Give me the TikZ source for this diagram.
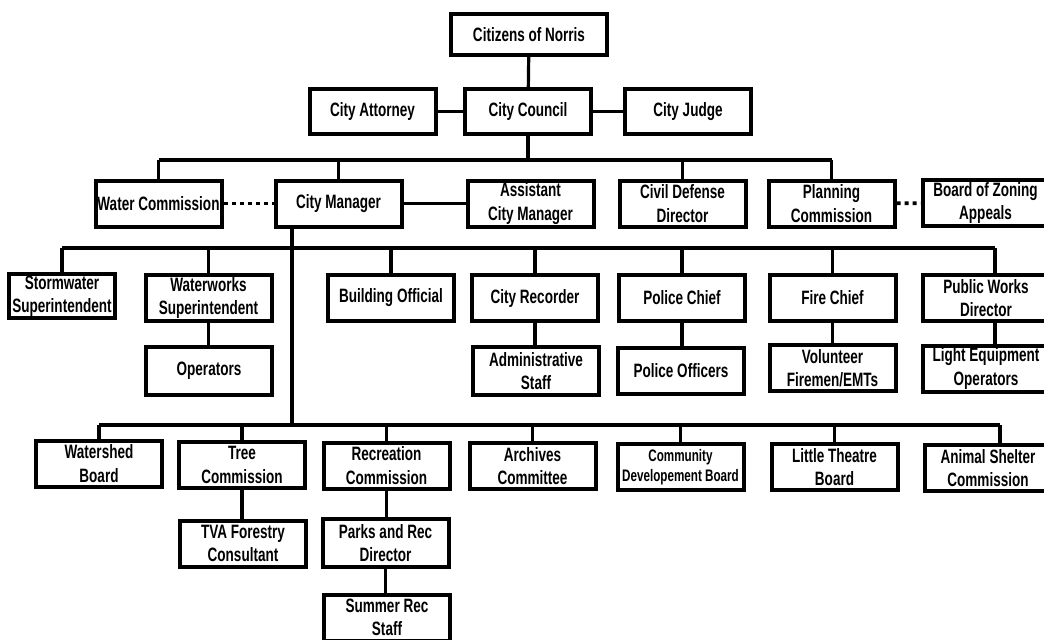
\documentclass[tikz,border=0pt]{standalone}
\usepackage{fontspec}
\newfontfamily\orgfont{Liberation Sans}[FakeStretch=0.70]
\usetikzlibrary{positioning}

\tikzset{
  box/.style={draw, line width=3pt, align=center, inner sep=0pt,
    minimum width=94.5pt, minimum height=34.5pt,
    font=\orgfont\bfseries\fontsize{14.5pt}{17.4pt}\selectfont},
  link/.style={line width=2.4pt},
  dotline/.style={line width=2.8pt, dash pattern=on 3pt off 3pt}
}

\begin{document}
\begin{tikzpicture}[x=0.75pt,y=-0.75pt]
\useasboundingbox (0,0) rectangle (1044,639);
\fill[white] (0,0) rectangle (1044,639);

% council level
\node[box, minimum width=117pt, minimum height=30.75pt] (cn) at (529,34.5) {Citizens of Norris};
\node[box, minimum height=33.75pt] (ca) at (372.5,111.5) {City Attorney};
\node[box, minimum height=33.75pt] (cc) at (528,111.5) {City Council};
\node[box, minimum height=33.75pt] (cj) at (688,111.5) {City Judge};

% second row
\node[box] (wc) at (158.5,203.5) {Water Commission};
\node[box] (cm) at (338.5,203.5) {City Manager};
\node[box] (acm) at (530.5,203.5) {Assistant\\City Manager};
\node[box] (cdd) at (682.5,203.5) {Civil Defense\\Director};
\node[box] (pc) at (831.5,203.5) {Planning\\Commission};
\node[box] (bza) at (985.5,203) {Board of Zoning\\Appeals};

% departments
\node[box, minimum width=79.5pt, minimum height=33pt] (sws) at (62,296) {Stormwater\\Superintendent};
\node[box] (wws) at (208.5,298) {Waterworks\\Superintendent};
\node[box] (bo) at (391,298) {Building Official};
\node[box] (cr) at (535,298) {City Recorder};
\node[box] (pch) at (682,298) {Police Chief};
\node[box] (fc) at (832.5,298) {Fire Chief};
\node[box] (pwd) at (986,298) {Public Works\\Director};

\node[box, minimum height=36pt] (ops) at (209,371) {Operators};
\node[box, minimum height=36pt] (ads) at (536,371) {Administrative\\Staff};
\node[box] (po) at (681,371) {Police Officers};
\node[box] (vf) at (832.5,368) {Volunteer\\Firemen/EMTs};
\node[box] (leo) at (986,368.5) {Light Equipment\\Operators};

% boards
\node[box] (wsb) at (99,463.5) {Watershed\\Board};
\node[box] (tc) at (242,465) {Tree\\Commission};
\node[box] (rc) at (386.5,465.5) {Recreation\\Commission};
\node[box] (ac) at (532.5,466) {Archives\\Committee};
\node[box, font=\orgfont\bfseries\fontsize{12.5pt}{15pt}\selectfont] (cdb) at (680.5,467) {Community\\Developement Board};
\node[box] (ltb) at (834.5,467) {Little Theatre\\Board};
\node[box] (asc) at (988,468) {Animal Shelter\\Commission};

\node[box] (tva) at (243,543.5) {TVA Forestry\\Consultant};
\node[box, minimum height=36pt] (prd) at (385.5,543) {Parks and Rec\\Director};
\node[box] (srs) at (387,617.5) {Summer Rec\\Staff};

% buses
\coordinate (bus1) at (0,160);
\coordinate (bus2) at (0,248);
\coordinate (bus3) at (0,425);
\coordinate (cmleg) at ([xshift=-34.9pt]cm.south);
\coordinate (pwtop) at ([xshift=6.75pt]pwd.north);
\coordinate (astop) at ([xshift=9pt]asc.north);

\draw[link] (cn) -- (cc);
\draw[link] (ca) -- (cc) -- (cj);
\draw[link] (cc.south) -- (cc.south |- bus1);
\draw[link] (wc.north |- bus1) -- (pc.north |- bus1);
\foreach \n in {wc,cm,cdd,pc}
  \draw[link] (\n.north) -- (\n.north |- bus1);
\draw[link] (cm) -- (acm);
\draw[dotline] (wc) -- (cm);
\draw[dotline] (pc) -- (bza);

\draw[link] (cmleg) -- (cmleg |- bus3);
\draw[link] (sws.north |- bus2) -- (pwtop |- bus2);
\foreach \n in {sws,wws,bo,cr,pch,fc}
  \draw[link] (\n.north) -- (\n.north |- bus2);
\draw[link] (pwtop) -- (pwtop |- bus2);
\foreach \a/\b in {wws/ops,cr/ads,pch/po,fc/vf}
  \draw[link] (\a.south) -- (\a.south |- \b.north);
\draw[link] (pwtop |- pwd.south) -- (pwtop |- leo.north);

\draw[link] (wsb.north |- bus3) -- (astop |- bus3);
\foreach \n in {wsb,tc,rc,ac,cdb,ltb}
  \draw[link] (\n.north) -- (\n.north |- bus3);
\draw[link] (astop) -- (astop |- bus3);
\foreach \a/\b in {tc/tva,rc/prd,prd/srs}
  \draw[link] (\a.south) -- (\a.south |- \b.north);
\end{tikzpicture}
\end{document}
